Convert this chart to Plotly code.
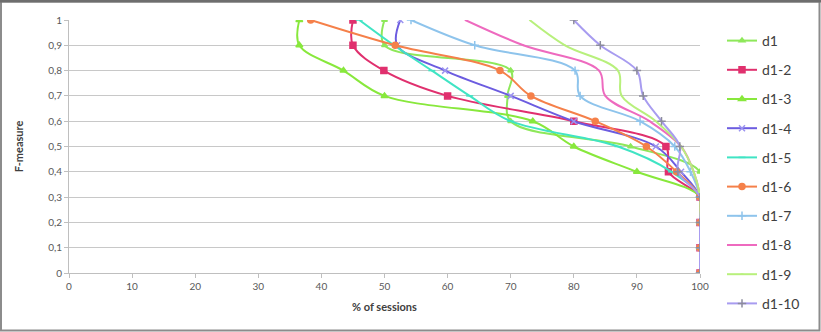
import plotly.graph_objects as go

y_levels = [1.0, 0.9, 0.8, 0.7, 0.6, 0.5, 0.4, 0.3, 0.2, 0.1, 0.0]
y_ticktext = ["1", "0,9", "0,8", "0,7", "0,6", "0,5", "0,4", "0,3", "0,2", "0,1", "0"]
x_ticks = [0, 10, 20, 30, 40, 50, 60, 70, 80, 90, 100]

names = ["d1", "d1-2", "d1-3", "d1-4", "d1-5", "d1-6", "d1-7", "d1-8", "d1-9", "d1-10"]

d1 = [50, 50, 70, 69.5, 70, 89, 100, 100, 100, 100, 100]
d1_2 = [45, 45, 49.9, 60, 80, 94.6, 95, 100, 100, 100, 100]
d1_3 = [36.5, 36.5, 43.5, 50, 73.5, 80, 90, 100, 100, 100, 100]
d1_4 = [52.5, 52, 59.6, 70, 80, 93, 97, 100, 100, 100, 100]
d1_5 = [46, 51.5, 57.5, 63.5, 70, 87, 95.5, 100, 100, 100, 100]
d1_6 = [38.3, 51.7, 68.3, 73.2, 83.4, 91.5, 96.3, 100, 100, 100, 100]
d1_7 = [54.2, 64.3, 80.2, 81, 90.5, 96, 98.5, 100, 100, 100, 100]
d1_8 = [62.8, 72, 84, 85, 92, 97, 99, 100, 100, 100, 100]
d1_9 = [73, 78.6, 87, 87.6, 93, 97, 99, 100, 100, 100, 100]
d1_10 = [80, 84.2, 90, 91, 93.9, 96.8, 96.5, 100, 100, 100, 100]

series = [d1, d1_2, d1_3, d1_4, d1_5, d1_6, d1_7, d1_8, d1_9, d1_10]

styles = [
    dict(color="#8EE85A", symbol="triangle-up", mcolor="#8EE85A", size=5),
    dict(color="#E0306E", symbol="square", mcolor="#E0306E", size=6),
    dict(color="#88E83C", symbol="triangle-up", mcolor="#88E83C", size=6),
    dict(color="#6C5CE0", symbol="x-thin-open", mcolor="#9C94F0", size=6),
    dict(color="#40E4C4", symbol="line-ew-open", mcolor="#40E4C4", size=5),
    dict(color="#F5804A", symbol="circle", mcolor="#F5804A", size=6),
    dict(color="#8EC4EC", symbol="cross-thin-open", mcolor="#8EC4EC", size=6),
    dict(color="#EE6ABF", symbol="line-ew-open", mcolor="#EE6ABF", size=1),
    dict(color="#B8F07C", symbol="line-ew-open", mcolor="#B8F07C", size=1),
    dict(color="#A89CF0", symbol="cross-thin-open", mcolor="#8C8C9C", size=6),
]

fig = go.Figure()
for i, (nm, xs, st) in enumerate(zip(names, series, styles)):
    fig.add_trace(go.Scatter(
        x=xs, y=y_levels, name=nm, mode="lines+markers",
        line=dict(color=st["color"], width=2, shape="spline", smoothing=1.0),
        marker=dict(symbol=st["symbol"], color=st["mcolor"], size=st["size"],
                    line=dict(color=st["mcolor"], width=1.5)),
        legendgroup=nm,
    ))

L, R, T, B = 69, 121, 20, 59
W, H = 821, 332
pw, ph = W - L - R, H - T - B

def px(xp):
    return (xp - L) / pw

def py(yp):
    return (H - B - yp) / ph

fig.update_layout(
    width=W, height=H,
    margin=dict(l=L, r=R, t=T, b=B),
    paper_bgcolor="white", plot_bgcolor="white",
    font=dict(family="Lato", color="#595959", size=10),
    showlegend=True,
    legend=dict(
        x=px(722), y=py(25), xanchor="left", yanchor="top",
        font=dict(size=14, color="#404040", family="Lato"),
        tracegroupgap=8, traceorder="grouped",
        itemwidth=30, bgcolor="rgba(0,0,0,0)", maxheight=330,
    ),
    xaxis=dict(
        range=[0, 100], tickvals=x_ticks, ticktext=[str(v) for v in x_ticks],
        showgrid=False, zeroline=False, showline=True, linecolor="#BFBFBF",
        linewidth=1, ticks="outside", ticklen=4, tickcolor="#BFBFBF",
        tickfont=dict(size=10, color="#595959"),
        title=dict(text="<b>% of sessions</b>", font=dict(size=11, color="#404040"), standoff=12),
    ),
    yaxis=dict(
        range=[0, 1], tickvals=y_levels, ticktext=y_ticktext,
        showgrid=True, gridcolor="#C8C8C8", gridwidth=1, zeroline=False,
        showline=True, linecolor="#BFBFBF", linewidth=1,
        ticks="outside", ticklen=4, tickcolor="#BFBFBF",
        tickfont=dict(size=10, color="#595959"),
        title=dict(text="<b>F-measure</b>", font=dict(size=11, color="#404040"), standoff=22),
    ),
    shapes=[
        dict(type="rect", xref="paper", yref="paper",
             x0=px(1), x1=px(819.5), y0=py(330.5), y1=py(1.5),
             line=dict(color="#8C8C8C", width=2), fillcolor="rgba(0,0,0,0)", layer="below"),
        dict(type="line", xref="paper", yref="paper",
             x0=px(0), x1=px(821), y0=py(1), y1=py(1),
             line=dict(color="#6E6E6E", width=3)),
    ],
)

fig.write_html("out.html")
